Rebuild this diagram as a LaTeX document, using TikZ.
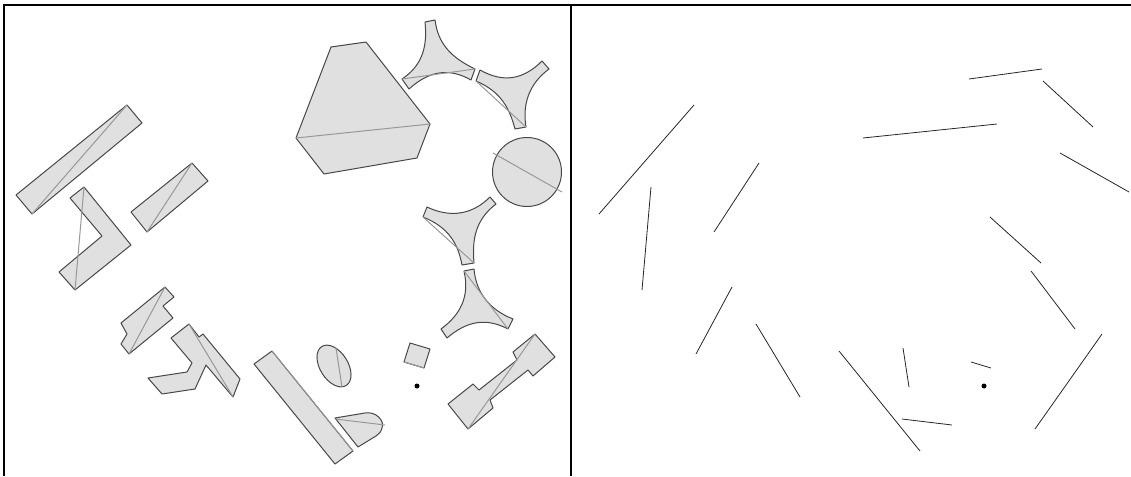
\documentclass[tikz,border=0pt]{standalone}
\usepackage{xcolor}
\usetikzlibrary{positioning}
\definecolor{shapefill}{HTML}{E0E0E0}
\definecolor{shapeedge}{HTML}{484848}
\definecolor{chordgray}{HTML}{989898}
\begin{document}
\begin{tikzpicture}[
    x=1pt, y=-1pt,
    frameline/.style={draw=black, line width=2.4pt},
    obstacle/.style={fill=shapefill, draw=shapeedge, line width=1pt, line join=round},
    chord/.style={draw=chordgray, line width=1pt},
    segment/.style={draw=black!85, line width=0.8pt},
    pointmark/.style={fill=black, draw=none}
]
    \useasboundingbox (0,0) rectangle (1131,476);
    % panel frame
    \coordinate (cornerbl) at (4,476);
    \coordinate (cornertl) at (4,5);
    \coordinate (cornertr) at (1131,5);
    \coordinate (divtop) at (571,5);
    \coordinate (divbot) at (571,476);
    \draw [frameline] (cornerbl) -- (cornertl) -- (cornertr);
    \draw [frameline] (divtop) -- (divbot);
    % left panel: polygons
    \draw [obstacle] (127,105) -- (142,123) -- (32,214) -- (16,195) -- cycle;
    \draw [obstacle] (192,163) -- (208,181) -- (147,232) -- (131,212) -- cycle;
    \draw [obstacle] (84,187) -- (131,245) -- (75,290) -- (59,272) -- (102,236) -- (70,198) -- cycle;
    \draw [obstacle] (165,287) -- (174,297) -- (163,306) -- (173,318) -- (129,354) -- (121,344) -- (127,334) -- (121,323) -- cycle;
    \draw [obstacle] (189,324) -- (199,337) -- (203,334) -- (240,379) -- (233,397) -- (206,365) -- (195,389) -- (162,394) -- (148,378) -- (187,372) -- (192,363) -- (171,338) -- cycle;
    \draw [obstacle] (272,351) -- (353,451) -- (335,464) -- (254,364) -- cycle;
    \draw [obstacle] (331,47) -- (366,42) -- (430,124) -- (417,158) -- (324,174) -- (296,138) -- cycle;
    \draw [obstacle] (410,343) -- (430,349) -- (424,368) -- (404,362) -- cycle;
    \draw [obstacle] (535,334) -- (555,357) -- (533,376) -- (528,370) -- (490,400) -- (493,408) -- (468,429) -- (448,404) -- (473,384) -- (479,390) -- (517,360) -- (513,352) -- cycle;
    % left panel: round shapes
    \draw [obstacle] (334,366) ellipse [x radius=23pt, y radius=14pt, rotate=-58];
    \draw [obstacle] (527,172) circle [radius=34.5pt];
    \draw [obstacle] (335,418) -- (365,413) .. controls (376,411) and (385,421) .. (382,428)
        .. controls (381,432) and (379,434) .. (376,436) -- (358,447) -- cycle;
    % left panel: three armed shapes
    \draw [obstacle] (425,22) -- (435,20) .. controls (438,43) and (450,57) .. (475,69) -- (471,80)
        .. controls (450,68) and (430,70) .. (409,89) -- (402,79) .. controls (420,67) and (428,50) .. (425,22) -- cycle;
    \draw [obstacle] (480,70) -- (476,81) .. controls (502,92) and (510,110) .. (515,129) -- (526,127)
        .. controls (522,103) and (530,83) .. (549,69) -- (542,61) .. controls (523,80) and (503,83) .. (480,70) -- cycle;
    \draw [obstacle] (427,207) -- (423,217) .. controls (448,227) and (458,243) .. (462,265) -- (474,263)
        .. controls (472,240) and (475,220) .. (496,204) -- (490,197) .. controls (472,215) and (450,218) .. (427,207) -- cycle;
    \draw [obstacle] (464,271) -- (474,269) .. controls (476,293) and (490,310) .. (513,319) -- (508,329)
        .. controls (487,318) and (468,320) .. (447,338) -- (441,329) .. controls (460,315) and (470,297) .. (464,271) -- cycle;
    % chords on the left, the same segments on the right
    \foreach \ax/\ay/\bx/\by in {127/105/32/214, 192/163/147/232, 84/187/75/290, 165/287/129/354,
        189/324/233/397, 272/351/353/451, 336/348/342/387, 335/419/385/425, 535/334/468/429,
        404/362/424/368, 464/271/508/329, 423/217/474/263, 493/153/562/192, 476/81/526/127,
        402/79/475/69, 296/138/430/124} {
        \draw [chord] (\ax,\ay) -- (\bx,\by);
        \draw [segment] (\ax+567,\ay) -- (\bx+567,\by);
    }
    % query points
    \node [circle, pointmark, inner sep=0pt, minimum size=5pt] (queryl) at (417,386) {};
    \node [circle, pointmark, inner sep=0pt, minimum size=5pt] (queryr) at (984,386) {};
\end{tikzpicture}
\end{document}
